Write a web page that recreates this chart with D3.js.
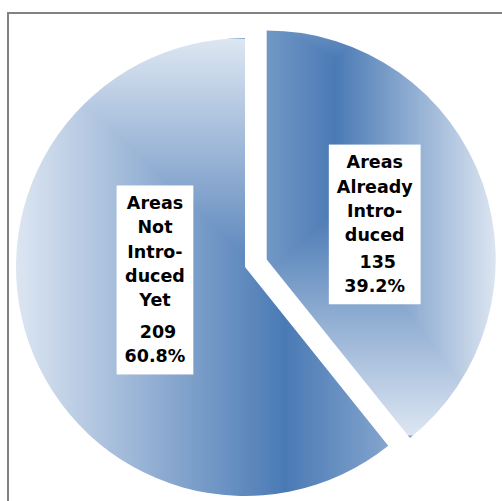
<!DOCTYPE html>
<html>
<head>
<meta charset="utf-8">
<script src="https://cdn.jsdelivr.net/npm/d3@7"></script>
<style>
  body { margin: 0; background: #fff; }
  svg { display: block; }
  .label text { font-family: "DejaVu Sans", sans-serif; font-weight: bold; font-size: 17.5px; fill: #000; white-space: pre; }
</style>
</head>
<body>
<div id="main"></div>
<script>
// data
const categories = ["Areas Already Introduced", "Areas Not Introduced Yet"];
const values = [135, 209];
const labelLines = [
    ["Areas", "Already", "Intro-", "duced"],
    ["Areas", "Not", "Intro-", "duced", "Yet"]
];

const ctx = {
    width: 502,
    height: 501,
    cx: 245,
    cy: 267,
    radius: 229,
    explode: [23, 0],
    dark: "#4a7ab5",
    light: "#dde6f2",
    lineHeight: 24.3,
    valueGap: [2.5, 7.5],
    padX: 8,
    padTop: 23.7,
    padBottom: 12,
    labelNudge: [[0, 3], [18, -25]],
    // rectangle "path" gradient of each slice, in radius units from the slice centre
    // fx / fy1..fy2 = darkest segment, L R T B = distance to the light colour
    grad: [
        {fx: 0.30, fy1: -0.875, fy2: -0.21, L: 1.09, R: 0.71, T: 0.6, B: 0.98},
        {fx: 0.175, fy1: 0.113, fy2: 1.05, L: 1.18, R: 1.15, T: 1.11, B: 0.5}
    ]
};

function createViz() {
    const svg = d3.select("#main").append("svg")
        .attr("width", ctx.width)
        .attr("height", ctx.height);
    const defs = svg.append("defs");

    // chart area border (runs off the right and bottom edge)
    svg.append("rect")
        .attr("x", 8).attr("y", 13)
        .attr("width", 600).attr("height", 600)
        .attr("fill", "none")
        .attr("stroke", "#828282")
        .attr("stroke-width", 2);

    const total = d3.sum(values);
    const pie = d3.pie().sort(null).startAngle(0).endAngle(2 * Math.PI);
    const arcs = pie(values);
    const r = ctx.radius;
    const arc = d3.arc().innerRadius(0).outerRadius(r);
    const pct = d3.format(".1%");

    // offset of each slice centre (explosion)
    const centres = arcs.map((a, i) => {
        const mid = (a.startAngle + a.endAngle) / 2;
        const e = ctx.explode[i];
        return [ctx.cx + e * Math.sin(mid), ctx.cy - e * Math.cos(mid)];
    });

    // gradient patterns
    const S = 400;
    arcs.forEach((a, i) => {
        const g = ctx.grad[i];
        const fx = g.fx * r, y1 = g.fy1 * r, y2 = g.fy2 * r;
        const left = fx - g.L * r, right = fx + g.R * r;
        const top = y1 - g.T * r, bottom = y2 + g.B * r;

        const mk = (id, x1, yA, x2, yB) => {
            const lg = defs.append("linearGradient")
                .attr("id", id)
                .attr("gradientUnits", "userSpaceOnUse")
                .attr("x1", x1).attr("y1", yA).attr("x2", x2).attr("y2", yB);
            lg.append("stop").attr("offset", 0).attr("stop-color", ctx.dark);
            lg.append("stop").attr("offset", 1).attr("stop-color", ctx.light);
        };
        mk(`gl${i}`, fx, 0, left, 0);
        mk(`gr${i}`, fx, 0, right, 0);
        mk(`gt${i}`, 0, y1, 0, top);
        mk(`gb${i}`, 0, y2, 0, bottom);

        const pat = defs.append("pattern")
            .attr("id", `fill${i}`)
            .attr("patternUnits", "userSpaceOnUse")
            .attr("x", -S).attr("y", -S)
            .attr("width", 2 * S).attr("height", 2 * S)
            .append("g")
            .attr("transform", `translate(${S},${S})`);
        pat.append("rect")
            .attr("x", -S).attr("y", -S)
            .attr("width", 2 * S).attr("height", 2 * S)
            .attr("fill", d3.interpolateRgb(ctx.dark, ctx.light)(0.4));
        const polys = [
            [[[left, top], [fx, y1], [fx, y2], [left, bottom]], `gl${i}`],
            [[[right, top], [fx, y1], [fx, y2], [right, bottom]], `gr${i}`],
            [[[left, top], [right, top], [fx, y1]], `gt${i}`],
            [[[left, bottom], [right, bottom], [fx, y2]], `gb${i}`]
        ];
        pat.selectAll("polygon")
            .data(polys)
            .enter().append("polygon")
            .attr("points", d => d[0].map(p => p.join(",")).join(" "))
            .attr("fill", d => `url(#${d[1]})`)
            .attr("shape-rendering", "crispEdges");
    });

    // slices
    const slices = svg.selectAll(".slice")
        .data(arcs)
        .enter().append("g")
        .attr("class", "slice")
        .attr("transform", (d, i) => `translate(${centres[i][0]},${centres[i][1]})`);
    slices.append("path")
        .attr("d", arc)
        .attr("fill", (d, i) => `url(#fill${i})`);

    // labels in white boxes
    arcs.forEach((a, i) => {
        const c = arc.centroid(a);
        const x = centres[i][0] + c[0] + ctx.labelNudge[i][0];
        const y = centres[i][1] + c[1] + ctx.labelNudge[i][1];
        const lines = labelLines[i].concat([" " + values[i], pct(values[i] / total)]);
        const nLab = labelLines[i].length;
        const h = ctx.padTop + (lines.length - 1) * ctx.lineHeight + ctx.valueGap[i] + ctx.padBottom;

        const lab = svg.append("g").attr("class", "label")
            .attr("transform", `translate(${x},${y - h / 2})`);
        const box = lab.append("rect").attr("fill", "#fff");
        const txt = lab.selectAll("text")
            .data(lines)
            .enter().append("text")
            .attr("x", 0)
            .attr("y", (d, k) => ctx.padTop + k * ctx.lineHeight + (k >= nLab ? ctx.valueGap[i] : 0))
            .attr("text-anchor", "middle")
            .text(d => d);
        const w = d3.max(txt.nodes(), n => n.getComputedTextLength()) + 2 * ctx.padX;
        box.attr("x", -w / 2).attr("y", 0).attr("width", w).attr("height", h);
    });
}

createViz();
</script>
</body>
</html>
